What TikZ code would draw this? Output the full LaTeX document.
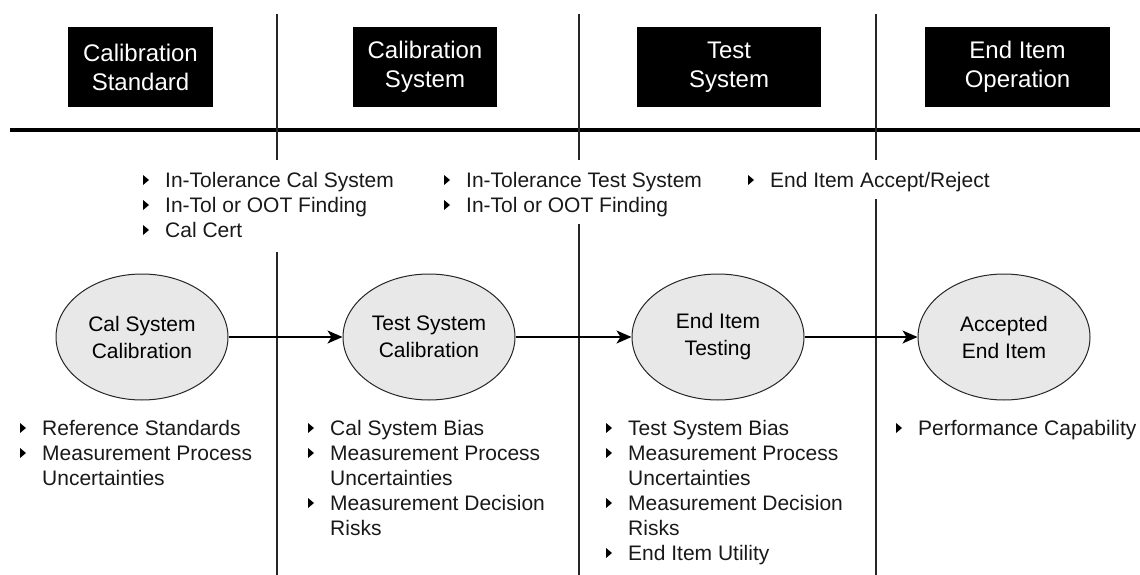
\documentclass[tikz,border=0pt]{standalone}
\usepackage{fontspec}
\setmainfont{Liberation Sans}
\usetikzlibrary{shapes.geometric,arrows.meta}
\tikzset{
  hdr/.style={fill=black,text=white,minimum height=80pt,inner sep=0pt,align=center,
    font=\fontsize{24}{29}\selectfont},
  proc/.style={ellipse,draw=black!85,line width=1pt,fill=black!9,minimum width=172pt,
    minimum height=126pt,inner sep=0pt,align=center,font=\fontsize{21}{27}\selectfont},
  txt/.style={inner sep=0pt,anchor=base west,font=\fontsize{21}{25}\selectfont,text=black!90},
  sep/.style={line width=1.3pt,draw=black!85},
  arr/.style={line width=1.4pt,-{Stealth[length=15pt,width=13pt,inset=4pt]}}
}
\newcommand\bitem[4]{%
  \fill[black] (#2-22,#3-5) -- ++(6,5) -- ++(-6,5) -- cycle;
  \node[txt] (#1) at (#2,#3+7.5) {#4};}
\newcommand\bcont[4]{\node[txt] (#1) at (#2,#3+7.5) {#4};}
\begin{document}
\begin{tikzpicture}[x=1pt,y=-1pt]
\useasboundingbox (0,0) rectangle (1140,575);
% headers
\node[hdr,minimum width=145pt] (h1) at (140.5,67) {Calibration\\Standard};
\node[hdr,minimum width=144pt] (h2) at (425,67) {Calibration\\System};
\node[hdr,minimum width=184pt] (h3) at (729,67) {Test\\System};
\node[hdr,minimum width=185pt] (h4) at (1017.5,67) {End Item\\Operation};
% rule
\draw[line width=4pt] (10,130) -- (1140,130);
% separators
\coordinate (s1a) at (277,14); \coordinate (s1b) at (277,160);
\coordinate (s1c) at (277,252); \coordinate (s1d) at (277,575);
\coordinate (s2a) at (579,14); \coordinate (s2b) at (579,160);
\coordinate (s2c) at (579,224); \coordinate (s2d) at (579,575);
\coordinate (s3a) at (876,14); \coordinate (s3b) at (876,160);
\coordinate (s3c) at (876,199); \coordinate (s3d) at (876,575);
\draw[sep] (s1a) -- (s1b) (s1c) -- (s1d);
\draw[sep] (s2a) -- (s2b) (s2c) -- (s2d);
\draw[sep] (s3a) -- (s3b) (s3c) -- (s3d);
% top bullets
\bitem{t11}{165}{180}{In-Tolerance Cal System}
\bitem{t12}{165}{205}{In-Tol or OOT Finding}
\bitem{t13}{165}{230}{Cal Cert}
\bitem{t21}{466}{180}{In-Tolerance Test System}
\bitem{t22}{466}{205}{In-Tol or OOT Finding}
\bitem{t31}{770}{180}{End Item Accept/Reject}
% processes
\node[proc] (e1) at (142,337) {Cal System\\Calibration};
\node[proc] (e2) at (429,337) {Test System\\Calibration};
\node[proc] (e3) at (718,337) {End Item\\Testing};
\node[proc] (e4) at (1004,337) {Accepted\\End Item};
\draw[arr] (e1) -- (e2);
\draw[arr] (e2) -- (e3);
\draw[arr] (e3) -- (e4);
% bottom bullets
\bitem{b11}{42}{428}{Reference Standards}
\bitem{b12}{42}{453}{Measurement Process}
\bcont{b13}{42}{478}{Uncertainties}
\bitem{b21}{330}{428}{Cal System Bias}
\bitem{b22}{330}{453}{Measurement Process}
\bcont{b23}{330}{478}{Uncertainties}
\bitem{b24}{330}{503}{Measurement Decision}
\bcont{b25}{330}{528}{Risks}
\bitem{b31}{628}{428}{Test System Bias}
\bitem{b32}{628}{453}{Measurement Process}
\bcont{b33}{628}{478}{Uncertainties}
\bitem{b34}{628}{503}{Measurement Decision}
\bcont{b35}{628}{528}{Risks}
\bitem{b36}{628}{553}{End Item Utility}
\bitem{b41}{918}{428}{Performance Capability}
\end{tikzpicture}
\end{document}
